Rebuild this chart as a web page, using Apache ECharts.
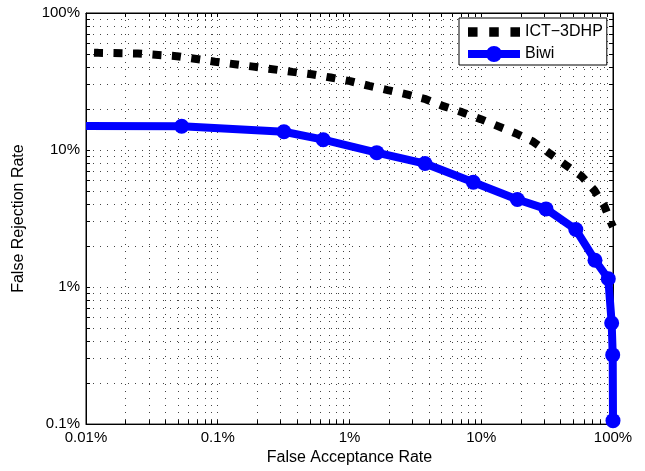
<!DOCTYPE html>
<html><head><meta charset="utf-8">
<script src="https://cdn.jsdelivr.net/npm/echarts@6/dist/echarts.min.js"></script>
<style>html,body{margin:0;padding:0;background:#fff}#c{width:645px;height:471px}</style>
</head><body><div id="c"></div>
<script>
// False Acceptance Rate (%) / False Rejection Rate (%)
const ictFAR = [0.01, 0.0124, 0.0247, 0.0488, 0.0953, 0.186, 0.369, 0.516, 0.720, 1.01, 1.41, 1.95, 2.72, 3.79, 5.15, 7.14, 9.92, 18.4, 24.8, 32.9, 43.7, 57.9, 72.1, 85.9, 97.7, 100];
const ictFRR = [51.5, 51.2, 50.6, 48.4, 44.1, 40.6, 37.2, 35.7, 33.8, 31.8, 29.4, 27.4, 25.5, 23.5, 20.9, 18.9, 16.8, 13.2, 11.5, 9.46, 7.79, 6.43, 5.09, 3.91, 2.88, 2.75];
const biwiFAR = [0.01, 0.0532, 0.318, 0.632, 1.61, 3.74, 8.71, 18.8, 31.0, 52.2, 73.0, 92.1, 97.7, 99.5, 100];
const biwiFRR = [15.0, 14.9, 13.6, 11.9, 9.57, 7.97, 5.82, 4.36, 3.72, 2.63, 1.57, 1.15, 0.547, 0.32, 0.106];
const seriesNames = ['ICT\u22123DHP', 'Biwi'];
const xMajor = [0.01, 0.1, 1, 10, 100];
const yMajor = [0.1, 1, 10, 100];
const minorMultipliers = [1, 2, 3, 4, 5, 6, 7, 8, 9];

function allTicks(major) {
  const out = [];
  for (let i = 0; i < major.length - 1; i++) {
    for (const m of minorMultipliers) out.push(major[i] * m);
  }
  out.push(major[major.length - 1]);
  return out;
}
const xTicks = allTicks(xMajor);
const yTicks = allTicks(yMajor);
const FONT = "'Liberation Sans', Arial, sans-serif";
const pct = v => (+v.toPrecision(6)) + '%';

function makeAxis(isX, ticks, major, pos, main) {
  return {
    type: 'log', logBase: 10,
    min: major[0], max: major[major.length - 1],
    position: pos,
    name: main ? (isX ? 'False Acceptance Rate' : 'False Rejection Rate') : '',
    nameLocation: 'middle',
    nameGap: isX ? 24 : 59,
    nameTextStyle: { fontFamily: FONT, fontSize: 16, color: '#000' },
    axisLine: { show: true, onZero: false, lineStyle: { color: '#000', width: 1 } },
    axisTick: { show: true, inside: true, length: 4, customValues: ticks, lineStyle: { color: '#000', width: 1 } },
    axisLabel: main ? { show: true, customValues: major, formatter: pct, fontFamily: FONT, fontSize: 15, color: '#000', margin: 6 } : { show: false },
    splitLine: main ? { show: true, lineStyle: { color: '#444', width: 1, type: [1, 6] } } : { show: false },
    minorTick: { show: false }, minorSplitLine: { show: false }
  };
}

const ICON_SQUARES = 'path://M0,0H9V9H0Z M20,0H29V9H20Z M40,0H49V9H40Z';
const ICON_LINE_DOT = 'path://M0,4H52V12H0Z M18,8A8,8 0 0 1 34,8A8,8 0 0 1 18,8Z';

const chart = echarts.init(document.getElementById('c'), null, { renderer: 'canvas' });
chart.setOption({
  animation: false,
  backgroundColor: '#fff',
  grid: { left: 86, right: 32, top: 13, bottom: 42, show: true, borderColor: '#000', borderWidth: 1, backgroundColor: 'transparent' },
  xAxis: [makeAxis(true, xTicks, xMajor, 'bottom', true), makeAxis(true, xTicks, xMajor, 'top', false)],
  yAxis: [makeAxis(false, yTicks, yMajor, 'left', true), makeAxis(false, yTicks, yMajor, 'right', false)],
  legend: {
    orient: 'vertical', left: 459, top: 18,
    padding: [6, 4, 3, 9], itemGap: 6, itemWidth: 52, itemHeight: 16,
    backgroundColor: '#fff', borderColor: '#000', borderWidth: 1, borderRadius: 0,
    textStyle: { fontFamily: FONT, fontSize: 16, color: '#000' },
    data: [
      { name: seriesNames[0], icon: ICON_SQUARES, itemStyle: { color: '#000', borderWidth: 0 } },
      { name: seriesNames[1], icon: ICON_LINE_DOT, itemStyle: { color: '#0000ff', borderWidth: 0 } }
    ]
  },
  series: [
    {
      name: seriesNames[0], type: 'line', xAxisIndex: 0, yAxisIndex: 0,
      data: ictFAR.map((x, i) => [x, ictFRR[i]]),
      symbol: 'none', smooth: false,
      lineStyle: { color: '#000', width: 8, type: [9, 10.5], dashOffset: 11.5, cap: 'butt' },
      itemStyle: { color: '#000' }
    },
    {
      name: seriesNames[1], type: 'line', xAxisIndex: 0, yAxisIndex: 0,
      data: biwiFAR.map((x, i) => i === 0 ? { value: [x, biwiFRR[i]], symbol: 'none' } : [x, biwiFRR[i]]),
      symbol: 'circle', symbolSize: 15, showAllSymbol: true,
      lineStyle: { color: '#0000ff', width: 8, join: 'round' },
      itemStyle: { color: '#0000ff' }
    }
  ]
});
</script></body></html>
